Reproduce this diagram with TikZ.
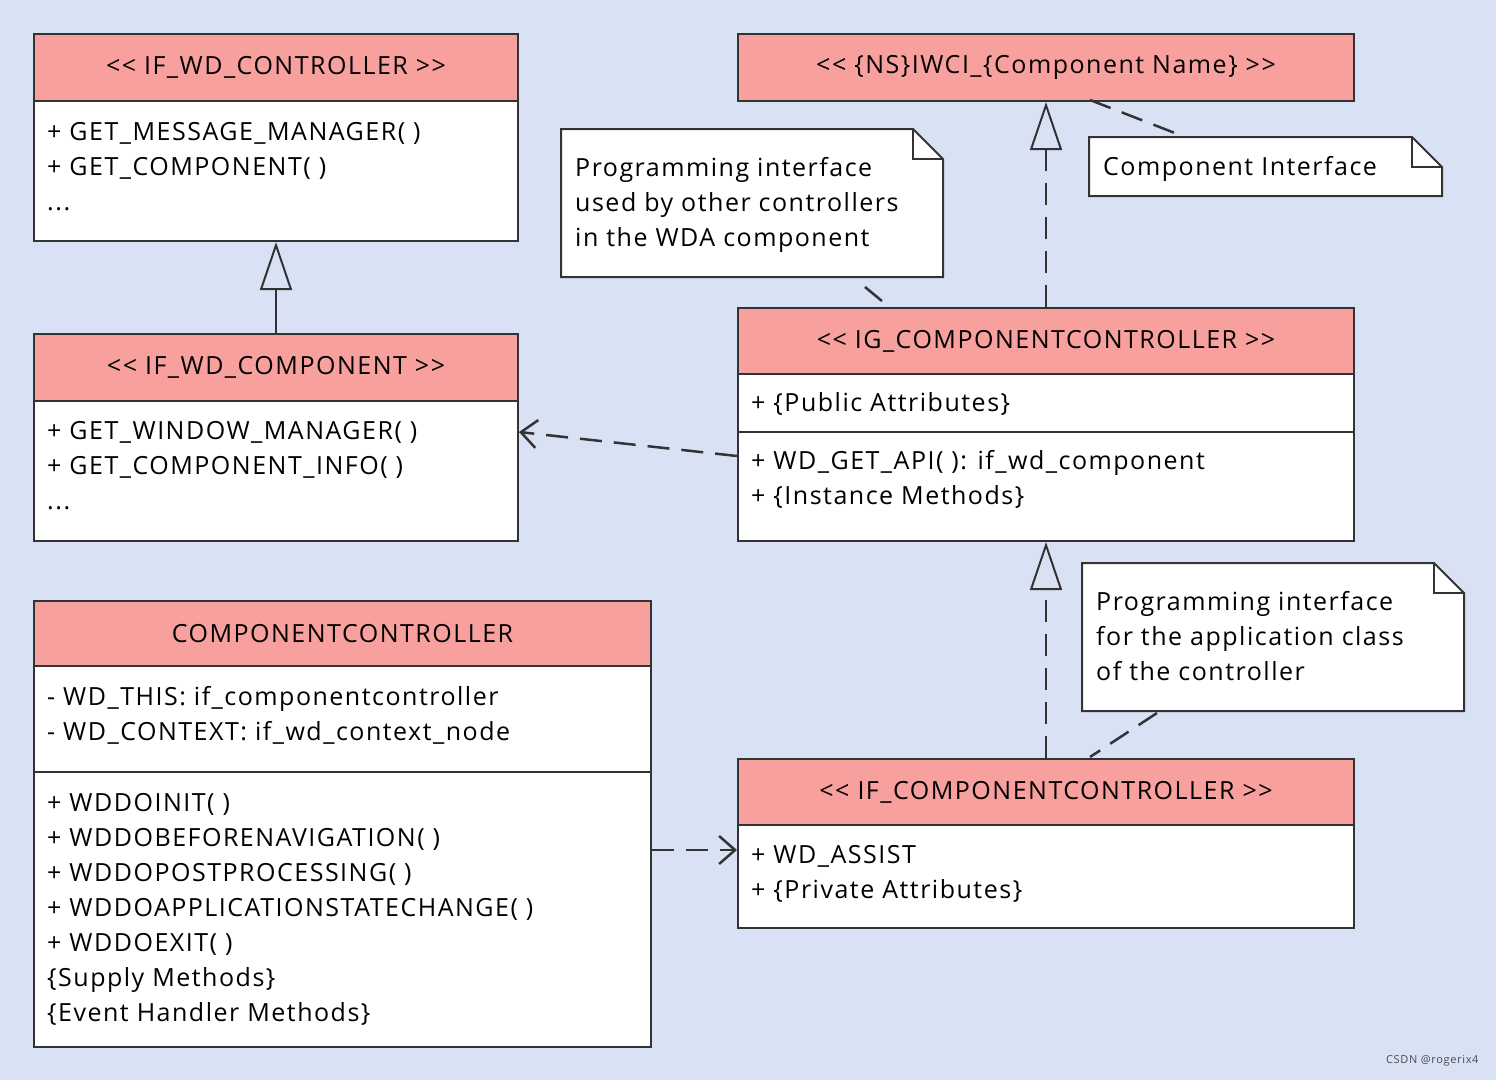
\documentclass[tikz,border=0pt]{standalone}
\usepackage{fontspec}
\setmainfont{Open Sans}[LetterSpace=6]
\usetikzlibrary{arrows.meta,calc}
\definecolor{bg}{HTML}{D9E1F5}
\definecolor{hd}{HTML}{F8A09E}
\definecolor{ln}{HTML}{333333}
\newcommand{\lt}{{<}{<}}
\newcommand{\gt}{{>}{>}}
\begin{document}
\begin{tikzpicture}[x=1pt,y=-1pt,
  box/.style={draw=ln,line width=2pt,fill=white,anchor=north west,inner sep=0},
  head/.style={draw=ln,line width=2pt,fill=hd,anchor=north west,inner sep=0,font=\fontsize{25}{28}\selectfont},
  tx/.style={anchor=base west,inner sep=0,font=\fontsize{25}{28}\selectfont},
  note/.style={draw=ln,line width=2pt,fill=white},
  conn/.style={draw=ln,line width=2.5pt},
  dsh/.style={conn,dash pattern=on 22pt off 12pt},
  inh/.style={-{Triangle[open,length=48pt,width=32pt,line width=2pt]}},
  dep/.style={-{Straight Barb[length=16pt,width=28pt,line width=2.5pt]}}]
\fill[bg] (0,0) rectangle (1496,1080);
\useasboundingbox (0,0) rectangle (1496,1080);
% boxes
\node[box,minimum width=484pt,minimum height=207pt] (ctrl) at (33,33) {};
\node[head,minimum width=484pt,minimum height=67pt] (ctrlh) at (33,33) {\lt{} IF\_WD\_CONTROLLER \gt};
\node[tx] at (47,140) {+ GET\_MESSAGE\_MANAGER( )};
\node[tx] at (47,175) {+ GET\_COMPONENT( )};
\node[tx] at (47,210) {...};

\node[box,minimum width=484pt,minimum height=207pt] (comp) at (33,333) {};
\node[head,minimum width=484pt,minimum height=67pt] (comph) at (33,333) {\lt{} IF\_WD\_COMPONENT \gt};
\node[tx] at (47,439) {+ GET\_WINDOW\_MANAGER( )};
\node[tx] at (47,474) {+ GET\_COMPONENT\_INFO( )};
\node[tx] at (47,509) {...};

\node[box,minimum width=617pt,minimum height=446pt] (cc) at (33,600) {};
\node[head,minimum width=617pt,minimum height=65pt] (cch) at (33,600) {COMPONENTCONTROLLER};
\draw[ln,line width=2pt] (33,772) -- (650,772);
\node[tx] at (47,705) {- WD\_THIS: if\_componentcontroller};
\node[tx] at (47,740) {- WD\_CONTEXT: if\_wd\_context\_node};
\node[tx] at (47,811) {+ WDDOINIT( )};
\node[tx] at (47,846) {+ WDDOBEFORENAVIGATION( )};
\node[tx] at (47,881) {+ WDDOPOSTPROCESSING( )};
\node[tx] at (47,916) {+ WDDOAPPLICATIONSTATECHANGE( )};
\node[tx] at (47,951) {+ WDDOEXIT( )};
\node[tx] at (47,986) {\{Supply Methods\}};
\node[tx] at (47,1021) {\{Event Handler Methods\}};

\node[head,minimum width=616pt,minimum height=67pt] (ns) at (737,33) {\lt{} \{NS\}IWCI\_\{Component Name\} \gt};

\node[box,minimum width=616pt,minimum height=233pt] (ig) at (737,307) {};
\node[head,minimum width=616pt,minimum height=66pt] (igh) at (737,307) {\lt{} IG\_COMPONENTCONTROLLER \gt};
\draw[ln,line width=2pt] (737,432) -- (1353,432);
\node[tx] at (751,411) {+ \{Public Attributes\}};
\node[tx] at (751,469) {+ WD\_GET\_API( ): if\_wd\_component};
\node[tx] at (751,504) {+ \{Instance Methods\}};

\node[box,minimum width=616pt,minimum height=169pt] (ifc) at (737,758) {};
\node[head,minimum width=616pt,minimum height=66pt] (ifch) at (737,758) {\lt{} IF\_COMPONENTCONTROLLER \gt};
\node[tx] at (751,863) {+ WD\_ASSIST};
\node[tx] at (751,898) {+ \{Private Attributes\}};

% notes
\draw[note] (561,129) -- (913,129) -- (943,159) -- (943,277) -- (561,277) -- cycle;
\draw[ln,line width=2pt] (913,129) -- (913,159) -- (943,159);
\node[tx] (n1) at (575,176) {Programming interface};
\node[tx] at (575,211) {used by other controllers};
\node[tx] at (575,246) {in the WDA component};
\coordinate (n1a) at (865,287);

\draw[note] (1089,137) -- (1412,137) -- (1442,167) -- (1442,196) -- (1089,196) -- cycle;
\draw[ln,line width=2pt] (1412,137) -- (1412,167) -- (1442,167);
\node[tx] (n2) at (1103,175) {Component Interface};
\coordinate (n2a) at (1180,135);

\draw[note] (1082,563) -- (1434,563) -- (1464,593) -- (1464,711) -- (1082,711) -- cycle;
\draw[ln,line width=2pt] (1434,563) -- (1434,593) -- (1464,593);
\node[tx] (n3) at (1096,610) {Programming interface};
\node[tx] at (1096,645) {for the application class};
\node[tx] at (1096,680) {of the controller};
\coordinate (n3a) at (1157,713);

% connectors
\draw[conn,inh] (comph.north) -- (ctrl.south);
\draw[dsh,inh] (igh.north) -- (ns.south);
\draw[dsh,inh] (ifch.north) -- (ig.south);
\draw[dsh,dep] ($(ig.north west)+(0,149)$) -- ($(comp.north east)+(0,99)$);
\draw[dsh,dep] ($(cc.north east)+(0,250)$) -- ($(ifc.north west)+(0,92)$);
\draw[conn,dash pattern=on 22pt off 12pt] (n1a) -- (888,306);
\draw[conn,dash pattern=on 22pt off 12pt] (1090,100) -- (n2a);
\draw[conn,dash pattern=on 22pt off 12pt] (n3a) -- (1090,757);
\node[anchor=south east,font=\fontsize{11}{12}\selectfont,text=black!70] at (1482,1070) {CSDN @rogerix4};
\end{tikzpicture}
\end{document}
